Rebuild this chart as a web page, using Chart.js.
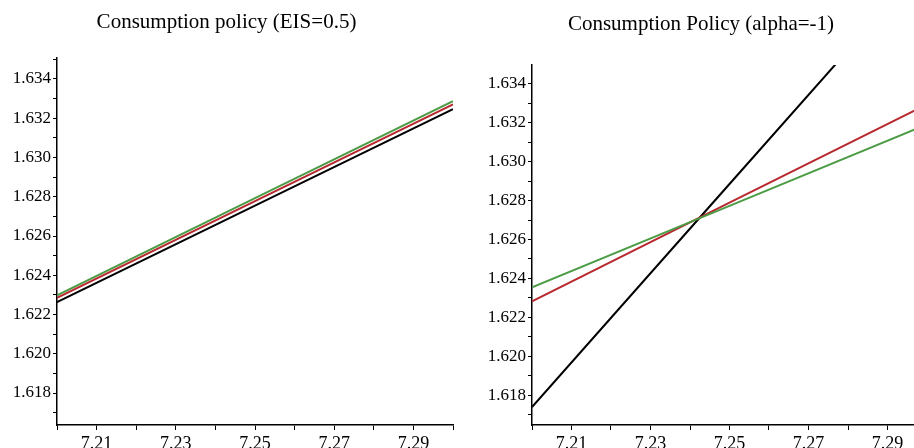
<!DOCTYPE html>
<html>
<head>
<meta charset="utf-8">
<title>Consumption policy</title>
<script src="https://cdn.jsdelivr.net/npm/chart.js"></script>
<style>
  html, body { margin: 0; padding: 0; background: #fff; overflow: hidden; }
  #wrap { position: relative; width: 914px; height: 448px; overflow: hidden; }
  canvas { position: absolute; top: 0; }
  #leftChart { left: 0; }
  #rightChart { left: 475px; }
</style>
</head>
<body>
<div id="wrap">
  <canvas id="leftChart" width="456" height="448"></canvas>
  <canvas id="rightChart" width="455" height="448"></canvas>
</div>
<script>
// wealth grid where the policies are evaluated
const wealth = [7.20, 7.25, 7.30];

// EIS = 0.5 panel
const eisGreen = [1.62298, 1.627925, 1.63287];
const eisRed   = [1.62285, 1.62778, 1.63271];
const eisBlack = [1.62263, 1.627545, 1.63246];

// alpha = -1 panel
const alphaGreen = [1.62354, 1.62773, 1.63191];
const alphaRed   = [1.62282, 1.62789, 1.63295];
const alphaBlack = [1.61738, 1.62885, 1.64031];

const xTickLabels = ['7.21', '7.23', '7.25', '7.27', '7.29'];
const yTickLabels = ['1.618', '1.620', '1.622', '1.624', '1.626', '1.628', '1.630', '1.632', '1.634'];

const GREEN = '#4b9b45';
const RED = '#b8282f';
const BLACK = '#000000';
const FONT = 'Liberation Serif, Times New Roman, serif';

function series(ys, color) {
    return {
        data: wealth.map((x, i) => ({ x: x, y: ys[i] })),
        borderColor: color,
        borderWidth: 2,
        pointRadius: 0,
        tension: 0,
        fill: false
    };
}

// every 0.001 / 0.01 gets a tick mark, only the listed values get a label
function stepTicks(scale, from, to, step, digits) {
    const ticks = [];
    const n = Math.round((to - from) / step);
    for (let i = 0; i <= n; i++) {
        const v = +(from + i * step).toFixed(digits);
        if (v >= scale.min - 1e-9 && v <= scale.max + 1e-9) ticks.push({ value: v });
    }
    scale.ticks = ticks;
}

function makeChart(canvasId, title, datasets, yMin, yMax, titlePad) {
    return new Chart(document.getElementById(canvasId), {
        type: 'line',
        data: { datasets: datasets },
        options: {
            responsive: false,
            animation: false,
            layout: { padding: { left: 0, right: 3, top: 0, bottom: 0 } },
            plugins: {
                legend: { display: false },
                tooltip: { enabled: false },
                title: {
                    display: true,
                    text: title,
                    color: '#000',
                    font: { family: FONT, size: 21, weight: 'normal', lineHeight: 1.2 },
                    padding: titlePad
                }
            },
            scales: {
                x: {
                    type: 'linear',
                    min: 7.20,
                    max: 7.30,
                    afterBuildTicks: s => stepTicks(s, 7.20, 7.30, 0.01, 2),
                    afterFit: s => { s.height = 23; },
                    grid: { drawOnChartArea: false, color: '#000', tickLength: 5 },
                    border: { color: '#000', width: 1.5 },
                    ticks: {
                        autoSkip: false,
                        maxRotation: 0,
                        padding: 3,
                        color: '#000',
                        font: { family: FONT, size: 18 },
                        callback: v => {
                            const t = v.toFixed(2);
                            return xTickLabels.includes(t) ? t : '';
                        }
                    }
                },
                y: {
                    type: 'linear',
                    min: yMin,
                    max: yMax,
                    afterBuildTicks: s => stepTicks(s, 1.616, 1.636, 0.001, 3),
                    afterFit: s => { s.width = 57; },
                    grid: { drawOnChartArea: false, color: '#000', tickLength: 4 },
                    border: { color: '#000', width: 1.5 },
                    ticks: {
                        autoSkip: false,
                        padding: 2,
                        color: '#000',
                        font: { family: FONT, size: 17 },
                        callback: v => {
                            const t = v.toFixed(3);
                            return yTickLabels.includes(t) ? t : '';
                        }
                    }
                }
            }
        }
    });
}

makeChart('leftChart', 'Consumption policy (EIS=0.5)', [
    series(eisBlack, BLACK),
    series(eisRed, RED),
    series(eisGreen, GREEN)
], 1.61637, 1.63507, { top: 10, bottom: 22.8 });

makeChart('rightChart', 'Consumption Policy (alpha=-1)', [
    series(alphaGreen, GREEN),
    series(alphaRed, RED),
    series(alphaBlack, BLACK)
], 1.61646, 1.63497, { top: 12, bottom: 27.8 });
</script>
</body>
</html>
